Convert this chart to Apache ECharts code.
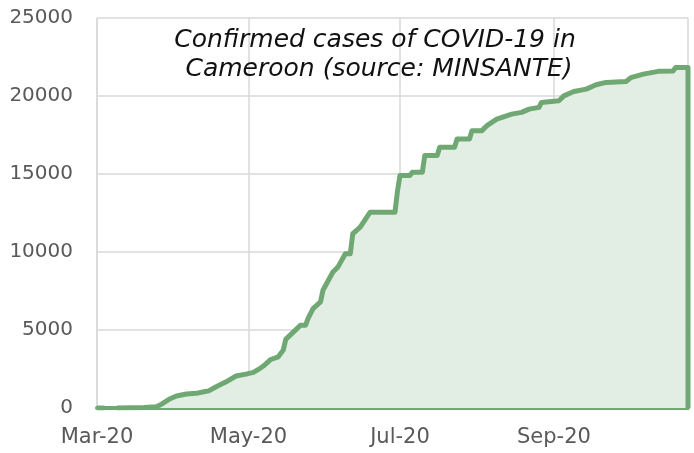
<!DOCTYPE html>
<html>
<head>
<meta charset="utf-8">
<script src="https://cdn.jsdelivr.net/npm/echarts@6/dist/echarts.min.js"></script>
<style>
  html, body { margin: 0; padding: 0; background: #fff; }
  #chart { width: 694px; height: 453px; }
</style>
</head>
<body>
<div id="chart"></div>
<script>
// cumulative confirmed cases
const dates = [
  '2020-03-01', '2020-03-04', '2020-03-06', '2020-03-09', '2020-03-15', '2020-03-20',
  '2020-03-25', '2020-03-27', '2020-03-30', '2020-04-02', '2020-04-06', '2020-04-10',
  '2020-04-13', '2020-04-15', '2020-04-18', '2020-04-22', '2020-04-26', '2020-04-30',
  '2020-05-03', '2020-05-05', '2020-05-07', '2020-05-10', '2020-05-13', '2020-05-15',
  '2020-05-16', '2020-05-22', '2020-05-24', '2020-05-25', '2020-05-27', '2020-05-30',
  '2020-05-31', '2020-06-04', '2020-06-06', '2020-06-09', '2020-06-11', '2020-06-12',
  '2020-06-15', '2020-06-19', '2020-06-29', '2020-06-30', '2020-07-01', '2020-07-05',
  '2020-07-06', '2020-07-10', '2020-07-11', '2020-07-16', '2020-07-17', '2020-07-23',
  '2020-07-24', '2020-07-29', '2020-07-30', '2020-08-03', '2020-08-05', '2020-08-09',
  '2020-08-15', '2020-08-19', '2020-08-22', '2020-08-26', '2020-08-27', '2020-09-03',
  '2020-09-05', '2020-09-09', '2020-09-14', '2020-09-18', '2020-09-22', '2020-09-30',
  '2020-10-02', '2020-10-07', '2020-10-13', '2020-10-19', '2020-10-20', '2020-10-25',
  '2020-10-25'
];
const cases = [
  0, 0, '-', 2, 10, 30,
  80, 250, 555, 770, 895, 940,
  1040, 1100, 1360, 1680, 2050, 2170,
  2280, 2470, 2690, 3110, 3280, 3710,
  4400, 5310, 5310, 5740, 6370, 6800,
  7550, 8720, 9030, 9890, 9890, 11170,
  11590, 12550, 12550, 13900, 14900, 14900,
  15110, 15110, 16180, 16180, 16710, 16710,
  17240, 17240, 17780, 17780, 18100, 18520,
  18840, 18950, 19160, 19270, 19590, 19700,
  20010, 20290, 20440, 20720, 20870, 20930,
  21180, 21400, 21580, 21610, 21820, 21820,
  0
];
const monthNames = ['Jan', 'Feb', 'Mar', 'Apr', 'May', 'Jun', 'Jul', 'Aug', 'Sep', 'Oct', 'Nov', 'Dec'];
const titleText = 'Confirmed cases of COVID-19 in\n Cameroon (source: MINSANTE)';

const green = '#70a874';
const gridGrey = '#d9d9d9';
const labelGrey = '#595959';

const chart = echarts.init(document.getElementById('chart'));

const option = {
  backgroundColor: '#fff',
  animation: false,
  title: {
    text: titleText,
    left: 370,
    top: 21,
    textAlign: 'center',
    textStyle: {
      fontFamily: 'DejaVu Sans',
      fontStyle: 'italic',
      fontWeight: 'normal',
      fontSize: 25,
      lineHeight: 29,
      color: '#111',
    },
  },
  grid: {
    left: 97,
    right: 6,
    top: 18,
    bottom: 45,
    containLabel: false,
  },
  xAxis: {
    type: 'time',
    min: '2020-03-01',
    max: '2020-10-25',
    splitNumber: 3,
    axisLine: { show: true, lineStyle: { color: green, width: 4 } },
    axisTick: { show: false },
    splitLine: { show: true, lineStyle: { color: gridGrey, width: 1.5 } },
    axisLabel: {
      color: labelGrey,
      fontFamily: 'DejaVu Sans',
      fontSize: 21,
      margin: 19,
      hideOverlap: false,
      formatter: (val) => {
        const d = new Date(val);
        if (d.getDate() !== 1) return '';
        return monthNames[d.getMonth()] + '-' + String(d.getFullYear()).slice(2);
      },
    },
  },
  yAxis: {
    type: 'value',
    min: 0,
    max: 25000,
    interval: 5000,
    axisLine: { show: false },
    axisTick: { show: false },
    splitLine: { lineStyle: { color: gridGrey, width: 1.5 } },
    axisLabel: {
      color: labelGrey,
      fontFamily: 'DejaVu Sans',
      fontSize: 20,
      margin: 24,
      formatter: (val) => String(val),
    },
  },
  series: [
    {
      type: 'line',
      data: dates.map((d, i) => [d, cases[i]]),
      showSymbol: false,
      connectNulls: false,
      lineStyle: { color: green, width: 5, join: 'round' },
      itemStyle: { color: green },
      areaStyle: { color: '#e2ede3', opacity: 1 },
    },
  ],
};

chart.setOption(option);
</script>
</body>
</html>
